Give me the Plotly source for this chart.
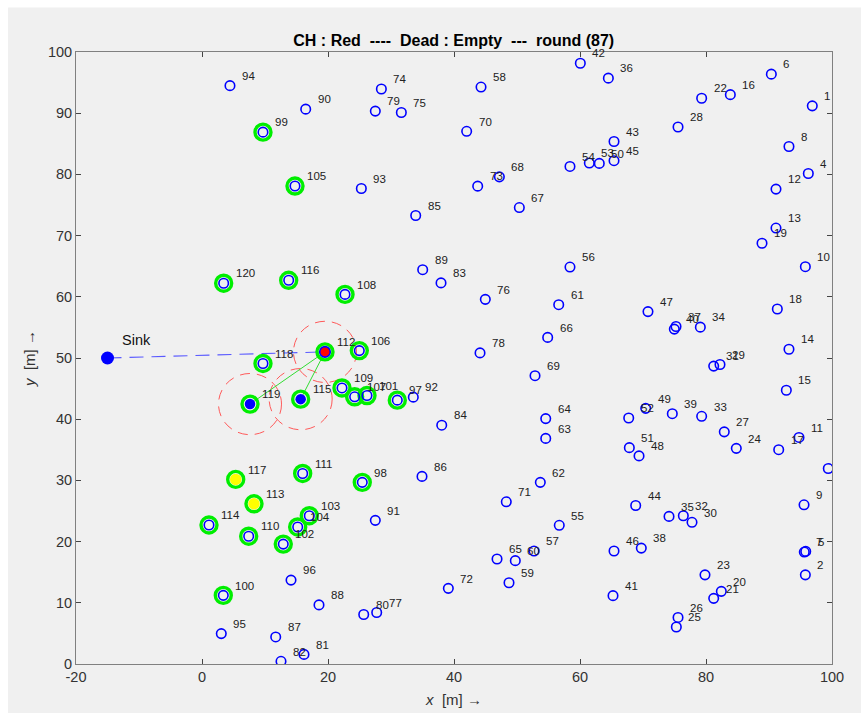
import plotly.graph_objects as go

# Sensor node coordinates (index i -> node i+1), metres
node_x = [96.87, 95.77, 99.41, 96.24, 95.83, 90.37, 95.60, 93.17, 95.56, 95.77,
          94.76, 91.11, 91.11, 93.17, 92.75, 83.86, 91.54, 91.32, 88.89, 82.43,
          81.22, 79.31, 79.84, 84.81, 75.29, 75.56, 82.90, 75.56, 82.22, 77.78,
          81.22, 76.40, 79.31, 79.10, 74.13, 64.50, 75.24, 69.73, 74.65, 74.97,
          65.24, 60.05, 65.40, 68.84, 65.40, 65.40, 70.79, 69.37, 70.43, 63.06,
          67.83, 67.73, 61.48, 58.41, 56.71, 58.41, 52.70, 44.29, 48.73, 49.73,
          56.62, 53.70, 54.56, 54.56, 46.83, 54.87, 50.37, 47.20, 52.86, 42.01,
          48.30, 39.10, 43.76, 28.47, 31.64, 44.97, 27.73, 44.13, 27.51, 25.67,
          16.19, 12.54, 37.94, 38.05, 33.92, 34.92, 11.70, 18.57, 35.03, 16.46,
          27.51, 33.54, 25.29, 4.44, 3.06, 14.13, 31.00, 25.44, 9.68, 3.38,
          26.19, 12.90, 17.03, 15.19, 14.76, 24.97, 24.23, 22.70, 22.22, 7.41,
          15.98, 19.52, 8.25, 1.11, 15.66, 13.76, 5.35, 9.68, 7.62, 3.44]
node_y = [91.20, 14.57, 31.94, 80.14, 18.40, 96.38, 18.29, 84.56, 26.01, 64.92,
          37.02, 77.60, 71.23, 51.43, 44.73, 93.03, 35.02, 58.01, 68.75, 11.87,
          10.73, 92.44, 14.57, 35.24, 6.04, 7.61, 37.93, 87.75, 48.94, 23.15,
          48.68, 24.23, 40.47, 55.04, 24.12, 95.73, 55.15, 18.94, 40.90, 54.72,
          11.17, 98.16, 85.37, 25.90, 82.24, 18.46, 57.58, 34.00, 41.77, 81.80,
          35.35, 40.20, 81.86, 81.30, 22.66, 64.86, 18.46, 94.27, 13.28, 16.89,
          58.71, 29.68, 36.86, 40.10, 17.16, 53.37, 74.58, 79.60, 47.11, 87.04,
          26.50, 12.36, 78.08, 93.95, 90.12, 59.58, 8.42, 50.83, 90.34, 8.09,
          1.57, 0.44, 62.27, 39.02, 73.28, 30.65, 4.42, 9.66, 64.43, 90.66,
          23.47, 43.60, 77.70, 94.50, 4.97, 13.71, 43.11, 29.68, 86.90, 11.22,
          43.87, 19.59, 24.23, 22.39, 78.10, 51.21, 43.66, 60.39, 45.11, 20.88,
          31.13, 51.00, 26.18, 22.71, 43.28, 62.70, 30.16, 49.10, 42.47, 62.22]

# Node roles in this round
advanced_ids = list(range(97, 121))   # ringed in green
ch_ids = [112]                        # cluster head (red)
member_ids = [115, 119]               # nodes joined to the cluster head
yellow_ids = [113, 117]

sink_x, sink_y = -15, 50
cluster_radius = 5
round_no = 87

x_ticks = [-20, 0, 20, 40, 60, 80, 100]
y_ticks = [0, 10, 20, 30, 40, 50, 60, 70, 80, 90, 100]

FONT = "Liberation Sans, Arial, Helvetica, sans-serif"
BLUE = "#0000ff"
GREEN = "#00ee00"


def xs(ids):
    return [node_x[i - 1] for i in ids]


def ys(ids):
    return [node_y[i - 1] for i in ids]


fig = go.Figure()

# Sink -> cluster head link
ch = ch_ids[0]
fig.add_trace(go.Scatter(
    x=[sink_x, node_x[ch - 1]], y=[sink_y, node_y[ch - 1]], mode="lines",
    line=dict(color="#5a5aff", width=1.1, dash="14px,8px"), hoverinfo="skip"))

# Member -> cluster head links
for m in member_ids:
    fig.add_trace(go.Scatter(
        x=[node_x[m - 1], node_x[ch - 1]], y=[node_y[m - 1], node_y[ch - 1]],
        mode="lines", line=dict(color="#33dd33", width=1), hoverinfo="skip"))

# Green rings
fig.add_trace(go.Scatter(
    x=xs(advanced_ids), y=ys(advanced_ids), mode="markers",
    marker=dict(symbol="circle-open", size=16, color=GREEN, line=dict(width=3.4)),
    hoverinfo="skip"))

# All nodes as blue open circles
plain_ids = [i for i in range(1, 121)
             if i not in ch_ids + member_ids + yellow_ids]
fig.add_trace(go.Scatter(
    x=xs(plain_ids), y=ys(plain_ids), mode="markers",
    marker=dict(symbol="circle-open", size=9.5, color=BLUE, line=dict(width=1.6)),
    hoverinfo="skip"))

# Member nodes (filled blue)
fig.add_trace(go.Scatter(
    x=xs(member_ids), y=ys(member_ids), mode="markers",
    marker=dict(symbol="circle", size=10.5, color=BLUE, line=dict(width=0)),
    hoverinfo="skip"))

# Yellow nodes
fig.add_trace(go.Scatter(
    x=xs(yellow_ids), y=ys(yellow_ids), mode="markers",
    marker=dict(symbol="circle", size=11.5, color="#ffff00", line=dict(width=0)),
    hoverinfo="skip"))

# Cluster head (red fill, blue edge)
fig.add_trace(go.Scatter(
    x=xs(ch_ids), y=ys(ch_ids), mode="markers",
    marker=dict(symbol="circle", size=10.5, color="#ff0000",
                line=dict(color=BLUE, width=1.6)),
    hoverinfo="skip"))

# Sink
fig.add_trace(go.Scatter(
    x=[sink_x], y=[sink_y], mode="markers",
    marker=dict(symbol="circle", size=13, color=BLUE, line=dict(width=0)),
    hoverinfo="skip"))

# Dashed range circles around the cluster head and its members
shapes = []
for c in ch_ids + member_ids:
    cx, cy = node_x[c - 1], node_y[c - 1]
    shapes.append(dict(
        type="circle", xref="x", yref="y", layer="below",
        x0=cx - cluster_radius, x1=cx + cluster_radius,
        y0=cy - cluster_radius, y1=cy + cluster_radius,
        line=dict(color="#ff5a5a", width=1, dash="10px,7px")))

# Figure background panel
shapes.append(dict(
    type="rect", xref="paper", yref="paper", layer="below",
    x0=-0.0899, x1=1.04, y0=-0.08, y1=1.0728,
    fillcolor="#f0f0f0", line=dict(width=0)))

# Node id labels
annotations = []
for i in range(120):
    annotations.append(dict(
        x=node_x[i] + 1.6, y=node_y[i] + 1.6, xref="x", yref="y",
        text=str(i + 1), showarrow=False, xanchor="left", yanchor="middle",
        font=dict(family=FONT, size=11.5, color="#222222")))
annotations.append(dict(
    x=sink_x + 2.0, y=sink_y + 2.9, xref="x", yref="y", text="Sink",
    showarrow=False, xanchor="left", yanchor="middle",
    font=dict(family=FONT, size=14.5, color="#111111")))

fig.update_layout(
    width=861, height=718,
    margin=dict(l=76, r=29, t=52, b=48),
    paper_bgcolor="#ffffff", plot_bgcolor="#ffffff",
    showlegend=False,
    shapes=shapes, annotations=annotations,
    title=dict(
        text=f"<b>CH : Red  ----  Dead : Empty  ---  round ({round_no})</b>",
        x=0.527, xanchor="center", y=1 - 40 / 718, yanchor="middle",
        font=dict(family=FONT, size=16, color="#000000")),
    font=dict(family=FONT, color="#333333"),
)

axis_common = dict(
    showgrid=False, zeroline=False, showline=True, linecolor="#808080",
    linewidth=1, mirror="ticks", ticks="inside", ticklen=5, tickcolor="#444444",
    tickwidth=1, tickfont=dict(family=FONT, size=14.5, color="#333333"))

fig.update_xaxes(range=[-20, 100], tickvals=x_ticks,
                 ticktext=[str(v) for v in x_ticks],
                 title=dict(text="<i>x</i>  [m] \u2192", standoff=10,
                            font=dict(family=FONT, size=15, color="#333333")),
                 **axis_common)
fig.update_yaxes(range=[0, 100], tickvals=y_ticks,
                 ticktext=[str(v) for v in y_ticks],
                 title=dict(text="<i>y</i>  [m] \u2192", standoff=8,
                            font=dict(family=FONT, size=15, color="#333333")),
                 **axis_common)

fig.write_html("out.html")
